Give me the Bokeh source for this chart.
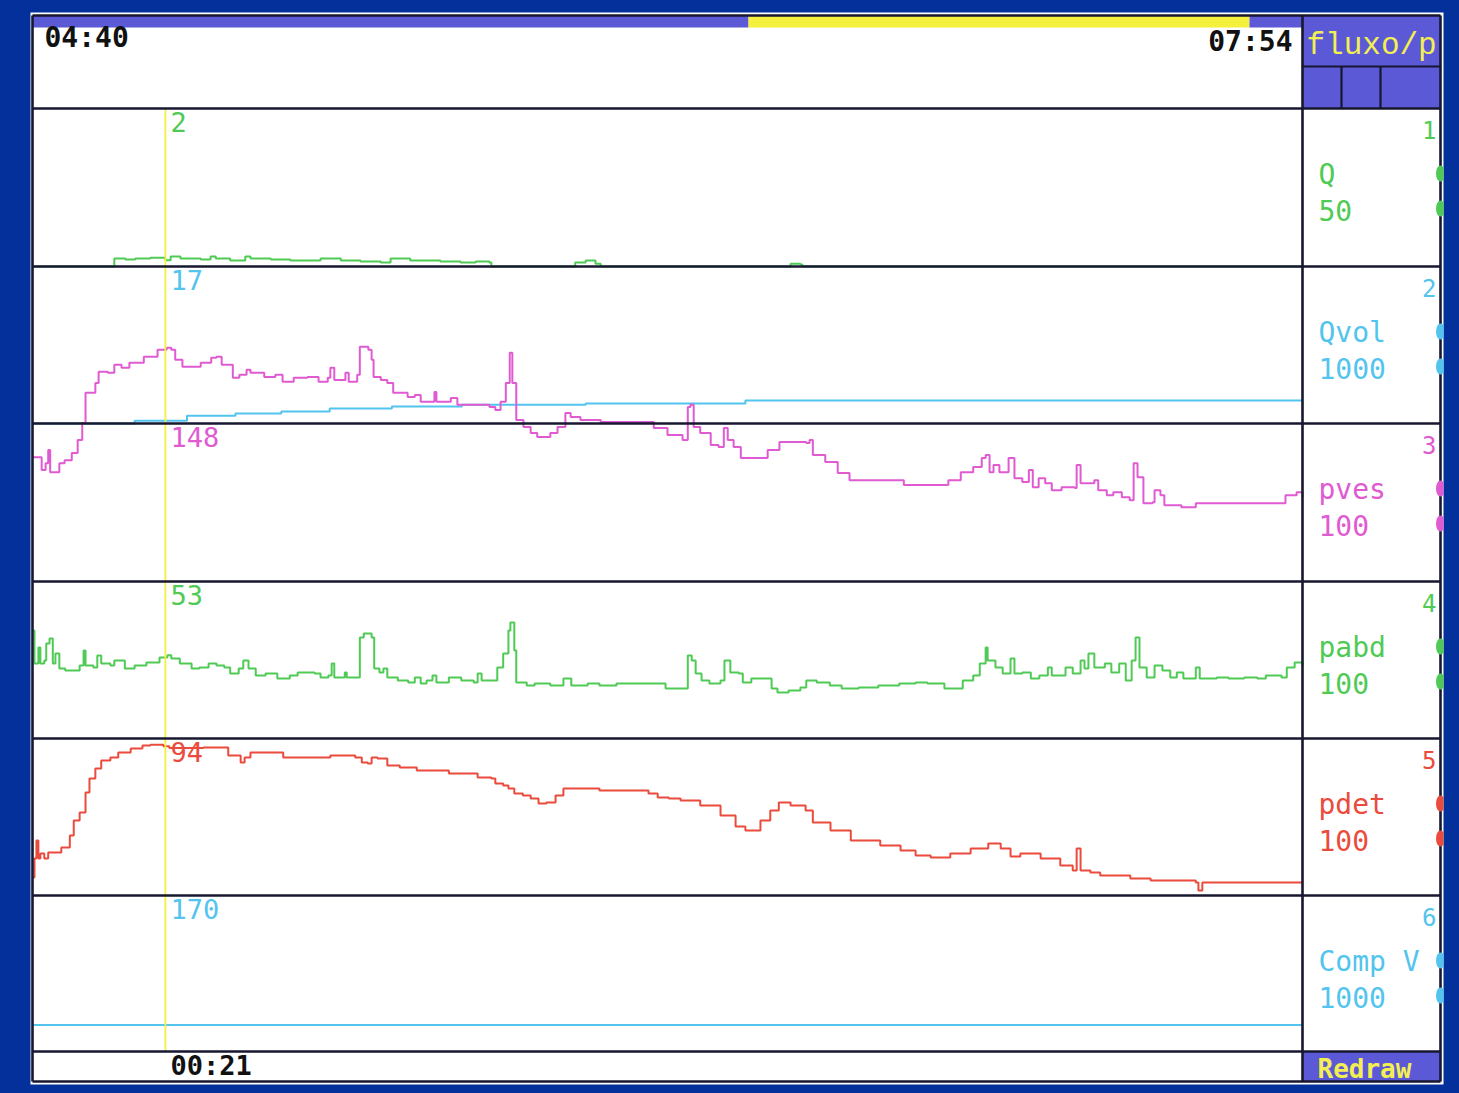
from bokeh.plotting import figure
from bokeh.models import Range1d, ColumnDataSource
from bokeh.core.properties import value
from bokeh.embed import file_html
from bokeh.resources import INLINE

# ---------------- values ----------------
window_start = "04:40"
window_end = "07:54"
window_seconds = 194.0          # 04:40 -> 07:54
cursor_time = 20.3              # s from window start
cursor_clock = "00:21"
protocol_name = "fluxo/p"
button_label = "Redraw"

channel_numbers = ["1", "2", "3", "4", "5", "6"]
channel_names = ["Q", "Qvol", "pves", "pabd", "pdet", "Comp V"]
channel_full_scale = [50, 1000, 100, 100, 100, 1000]
channel_scale_labels = ["50", "1000", "100", "100", "100", "1000"]
cursor_readings = ["2", "17", "148", "53", "94", "170"]

# channel 1: flow Q (ml/s)
q_t = [0.0, 12.2, 12.5, 14.2, 15.7, 18.0, 20.3, 21.1, 22.6, 25.7,
       27.2, 28.0, 30.2, 32.5, 33.3, 36.4, 39.4, 44.0, 47.1, 50.1,
       53.2, 54.7, 57.7, 62.3, 65.4, 67.7, 69.8, 70.1, 82.2, 82.9,
       84.5, 86.0, 86.8, 115.0, 115.8, 117.3, 117.6, 194.0]
q_v = [0, 0, 2.5, 2.2, 2.5, 2.8, 2.0, 3.2, 2.5, 2.2,
       3.2, 2.5, 1.9, 3.2, 2.5, 2.2, 1.9, 2.5, 1.9, 1.6,
       1.3, 2.5, 1.9, 1.6, 1.3, 1.6, 1.3, 0, 0, 1.3,
       1.9, 0.9, 0, 0, 0.9, 0.6, 0, 0]

# channel 2: voided volume Qvol (ml)
qvol_t = [0.0, 15.6, 23.6, 31.0, 38.0, 45.4, 54.9, 65.6, 84.5, 108.9, 194.0]
qvol_v = [0, 17, 50, 64, 76, 95, 108, 120, 128, 146, 146]

# channel 3: pves (cmH2O)
pves_t = [0.0, 0.8, 1.4, 2.0, 2.4, 2.7, 3.5, 4.1, 4.9, 6.0,
          6.9, 7.6, 8.1, 8.7, 9.6, 10.1, 11.5, 12.5, 13.6, 14.8,
          17.0, 19.1, 20.5, 21.2, 21.8, 22.9, 24.6, 25.7, 27.3, 28.1,
          28.9, 30.6, 31.6, 32.7, 33.3, 35.4, 37.1, 38.2, 39.9, 42.0,
          43.7, 45.1, 45.5, 46.1, 47.8, 48.3, 49.6, 50.0, 50.7, 51.3,
          51.8, 52.1, 53.2, 54.2, 55.1, 57.3, 58.4, 59.3, 61.4, 61.7,
          63.9, 64.9, 67.7, 69.8, 70.7, 71.5, 72.3, 72.9, 73.3, 73.9,
          75.0, 76.1, 77.1, 79.1, 80.2, 81.4, 82.2, 83.7, 86.8, 93.9,
          94.9, 97.0, 99.3, 100.1, 100.5, 101.0, 102.0, 103.6, 104.8, 105.6,
          106.2, 107.1, 108.2, 109.7, 112.3, 114.1, 118.2, 118.7, 119.2, 121.1,
          123.0, 124.8, 127.4, 133.1, 136.7, 139.9, 141.8, 143.7, 145.0, 145.6,
          146.2, 146.8, 147.7, 149.1, 150.0, 151.2, 152.2, 152.8, 153.7, 154.7,
          155.7, 157.2, 159.2, 159.5, 160.1, 162.2, 162.8, 164.1, 165.1, 166.4,
          167.6, 168.2, 168.8, 169.7, 171.1, 171.4, 172.3, 172.9, 175.5, 177.7,
          190.2, 191.4, 193.1, 194.0]
pves_v = [78.7, 78.7, 70.5, 74.9, 83.2, 69.2, 69.2, 74.9, 76.8, 81.3,
          89.5, 100.3, 119.4, 119.4, 125.7, 132.7, 132.1, 137.2, 135.3, 138.4,
          142.2, 146.7, 148.0, 146.7, 140.3, 135.9, 135.9, 138.4, 141.6, 142.2,
          137.2, 128.9, 130.8, 134.0, 132.1, 129.5, 130.8, 126.4, 128.9, 129.5,
          126.4, 128.9, 135.3, 127.6, 132.1, 126.4, 130.8, 148.6, 148.6, 146.7,
          140.3, 129.5, 127.6, 125.7, 119.4, 116.8, 118.1, 113.7, 120.0, 113.7,
          116.2, 111.8, 111.8, 110.5, 108.6, 113.7, 125.7, 144.8, 125.7, 102.2,
          97.8, 94.0, 91.4, 94.0, 97.8, 106.7, 104.1, 102.2, 101.0, 101.0,
          97.2, 92.7, 89.5, 110.5, 111.8, 97.8, 94.0, 86.4, 85.1, 97.2,
          89.5, 85.1, 78.1, 78.1, 83.2, 88.3, 87.6, 89.5, 80.0, 75.6,
          68.6, 64.1, 64.1, 61.0, 61.0, 64.1, 69.2, 72.4, 78.1, 80.0,
          69.2, 73.7, 69.2, 78.1, 65.4, 62.9, 70.5, 59.7, 65.4, 62.2,
          57.8, 59.7, 59.1, 73.7, 62.2, 64.1, 57.8, 54.6, 56.5, 53.3,
          51.4, 74.9, 66.0, 49.5, 50.2, 57.8, 54.6, 48.3, 47.0, 49.5,
          49.5, 54.6, 56.5, 53.3]

# channel 4: pabd (cmH2O)
pabd_t = [0.0, 0.3, 0.9, 1.2, 1.8, 2.1, 2.6, 3.1, 3.5, 4.1,
          5.0, 6.3, 7.2, 7.8, 8.1, 9.3, 9.9, 10.5, 11.9, 12.5,
          13.4, 14.1, 15.6, 17.4, 19.4, 20.6, 21.2, 22.5, 24.3, 25.5,
          26.9, 28.1, 29.3, 30.2, 31.5, 32.2, 33.0, 34.1, 35.6, 36.8,
          37.4, 39.3, 40.5, 43.1, 44.0, 45.2, 45.7, 46.1, 47.7, 48.0,
          48.9, 50.0, 50.6, 51.8, 52.2, 53.0, 53.6, 54.2, 55.8, 57.4,
          58.4, 59.3, 60.2, 61.1, 61.7, 63.6, 65.5, 67.4, 68.0, 68.6,
          70.4, 71.0, 71.9, 72.7, 73.0, 73.6, 73.9, 75.5, 76.7, 79.1,
          81.1, 82.3, 84.8, 86.6, 89.2, 91.7, 94.1, 96.7, 99.8, 100.1,
          100.7, 101.3, 102.2, 103.4, 105.1, 105.7, 106.6, 107.9, 108.5, 109.8,
          111.7, 112.9, 113.8, 115.5, 117.3, 118.2, 119.8, 121.8, 123.6, 126.2,
          129.2, 132.4, 134.9, 136.7, 139.3, 141.5, 142.1, 143.7, 144.7, 145.6,
          145.9, 147.1, 148.2, 149.4, 150.0, 151.2, 152.5, 153.8, 155.1, 155.7,
          156.9, 157.8, 158.9, 160.1, 160.7, 161.3, 162.2, 163.1, 163.8, 164.8,
          166.0, 167.0, 167.9, 168.5, 169.1, 170.2, 171.4, 172.6, 173.8, 174.8,
          175.8, 177.7, 178.3, 180.9, 182.7, 185.1, 187.1, 188.4, 190.8, 191.6,
          192.8, 194.0]
pabd_v = [68.8, 47.8, 58.0, 47.8, 49.7, 60.5, 63.7, 47.8, 54.1, 44.6,
          43.3, 43.3, 46.5, 56.1, 46.5, 45.2, 52.9, 47.8, 46.5, 49.7,
          49.7, 44.6, 46.5, 48.4, 51.6, 53.0, 51.0, 47.8, 44.6, 45.2,
          47.8, 46.5, 45.2, 41.4, 44.6, 49.7, 44.6, 40.1, 41.4, 41.4,
          38.2, 40.1, 42.0, 41.4, 38.9, 40.1, 47.8, 38.9, 42.0, 38.9,
          38.9, 64.3, 66.9, 64.3, 44.6, 42.0, 44.6, 38.9, 36.9, 35.7,
          38.9, 35.0, 36.9, 40.1, 35.7, 38.9, 36.9, 35.7, 41.4, 36.9,
          36.9, 45.2, 54.1, 68.8, 73.9, 56.1, 35.7, 33.8, 35.0, 33.8,
          38.2, 33.8, 35.0, 33.8, 35.0, 35.0, 35.0, 31.9, 31.9, 52.9,
          49.7, 41.4, 36.9, 35.0, 36.9, 49.7, 42.0, 41.4, 35.7, 38.2,
          38.2, 31.9, 29.3, 30.6, 32.5, 36.9, 35.7, 33.8, 31.9, 32.5,
          33.8, 35.0, 35.7, 35.0, 31.9, 31.9, 36.9, 40.1, 47.8, 58.0,
          49.7, 45.2, 41.4, 51.0, 41.4, 42.0, 38.2, 40.1, 45.2, 40.1,
          40.1, 45.2, 41.4, 49.7, 44.6, 54.1, 45.2, 45.2, 47.8, 42.0,
          47.8, 36.9, 49.7, 64.3, 45.2, 38.9, 46.5, 43.3, 38.9, 42.0,
          38.2, 45.2, 38.2, 38.9, 38.2, 38.9, 38.2, 40.1, 38.9, 45.2,
          48.4, 46.5]

# channel 5: pdet (cmH2O)
pdet_t = [0.0, 0.3, 0.6, 0.9, 1.2, 1.8, 2.4, 3.5, 4.4, 5.7,
          6.3, 7.2, 8.1, 8.7, 9.6, 10.5, 11.9, 13.1, 15.0, 16.8,
          18.0, 20.0, 20.9, 26.1, 28.1, 29.9, 31.8, 32.4, 33.3, 36.8,
          38.3, 43.1, 45.5, 49.3, 50.3, 51.2, 51.8, 52.7, 54.2, 56.1,
          58.7, 61.7, 63.6, 66.8, 68.0, 70.1, 70.7, 71.9, 72.7, 73.6,
          74.9, 76.1, 77.3, 78.5, 79.9, 81.1, 83.6, 86.6, 92.3, 94.1,
          95.5, 97.2, 99.0, 102.0, 105.1, 107.4, 108.9, 111.2, 112.7, 114.0,
          115.8, 118.1, 119.2, 121.9, 125.0, 129.5, 132.6, 134.9, 137.2, 140.2,
          143.3, 146.0, 147.9, 149.4, 150.9, 154.0, 157.0, 158.9, 159.5, 160.1,
          161.6, 163.1, 167.7, 170.8, 173.8, 177.7, 178.1, 178.7, 187.6, 194.0]
pdet_v = [11.5, 23.6, 35.0, 23.6, 26.8, 23.6, 27.4, 27.4, 30.6, 38.2,
          47.8, 52.9, 65.6, 74.5, 80.9, 86.0, 87.9, 91.1, 93.6, 95.6,
          96.0, 95.0, 94.0, 94.3, 94.3, 89.2, 84.7, 87.9, 91.1, 91.1,
          87.9, 87.9, 89.2, 87.9, 84.7, 84.1, 87.9, 87.3, 82.8, 81.5,
          79.6, 79.6, 77.7, 77.7, 75.2, 74.5, 71.3, 70.1, 68.2, 65.0,
          63.7, 61.8, 58.6, 59.2, 63.7, 68.2, 68.2, 66.9, 66.9, 65.0,
          62.4, 61.8, 60.5, 57.3, 51.0, 44.0, 41.4, 47.8, 54.1, 59.2,
          57.3, 54.1, 46.5, 41.4, 35.0, 31.9, 28.7, 25.5, 24.2, 26.8,
          29.9, 33.1, 29.9, 24.8, 26.8, 23.6, 19.1, 15.9, 29.9, 15.9,
          14.7, 12.7, 10.8, 9.6, 9.6, 8.3, 3.2, 8.3, 8.3, 8.3]

# channel 6: compensated volume (ml)
compv_t = [0.0, 194.0]
compv_v = [170, 170]

# ---------------- styling / layout ----------------
NAVY = "#03309a"
INK = "#17172f"
PURPLE = "#5b59d6"
BAR_YELLOW = "#f4f03c"
TEXT_YELLOW = "#f3ef52"
GREEN = "#4fca55"
CYAN = "#52c4ee"
MAGENTA = "#e05ad2"
RED = "#ea4b3c"
channel_colors = [GREEN, CYAN, MAGENTA, GREEN, RED, CYAN]

X_LEFT, X_TRACE_RIGHT, X_RIGHT = 32, 1302, 1440
Y_TOP, Y_BOTTOM = 15, 1081
ROW_EDGES = [108, 266, 423, 581, 738, 895, 1051]
FX0, FX1, FY0, FY1 = 30, 1443, 12, 1084

p = figure(width=1459, height=1093,
           x_range=Range1d(FX0, FX1), y_range=Range1d(FY1, FY0),
           output_backend="svg", toolbar_location=None,
           x_axis_location=None, y_axis_location=None,
           min_border_left=FX0, min_border_right=1459 - FX1,
           min_border_top=FY0, min_border_bottom=1093 - FY1,
           background_fill_color="white", border_fill_color=NAVY,
           outline_line_color=None)
p.grid.visible = False

try:
    from bokeh.models import GlobalInlineStyleSheet
    p.stylesheets = [GlobalInlineStyleSheet(css="html, body { background: %s; overflow: hidden; }" % NAVY)]
except Exception:
    pass

# time scale: window start at the left trace edge, window end at the right one
k = window_seconds / (X_TRACE_RIGHT - X_LEFT)
p.extra_x_ranges = {"time": Range1d((FX0 - X_LEFT) * k, (FX1 - X_LEFT) * k)}

# one value scale per channel: 0 .. full scale fills the channel's row
yr = {}
for i in range(6):
    top, bot = ROW_EDGES[i], ROW_EDGES[i + 1]
    F = channel_full_scale[i]
    yr["ch%d" % (i + 1)] = Range1d((bot - FY1) / (bot - top) * F, (bot - FY0) / (bot - top) * F)
p.extra_y_ranges = yr

# header: progress bar and right-hand panels
p.quad(left=[X_LEFT, 748, 1249], right=[748, 1249, X_TRACE_RIGHT],
       top=[Y_TOP, Y_TOP, Y_TOP], bottom=[27, 27, 27],
       fill_color=[PURPLE, BAR_YELLOW, PURPLE], line_color=None)
p.quad(left=[X_TRACE_RIGHT, X_TRACE_RIGHT], right=[X_RIGHT, X_RIGHT],
       top=[Y_TOP, ROW_EDGES[6]], bottom=[ROW_EDGES[0], Y_BOTTOM],
       fill_color=PURPLE, line_color=None)

# traces
traces = [(q_t, q_v), (qvol_t, qvol_v), (pves_t, pves_v),
          (pabd_t, pabd_v), (pdet_t, pdet_v), (compv_t, compv_v)]
for i, (tt, vv) in enumerate(traces):
    p.step(tt, vv, mode="after", x_range_name="time", y_range_name="ch%d" % (i + 1),
           line_color=channel_colors[i], line_width=2.0)

# cursor
p.segment(x0=[cursor_time], x1=[cursor_time], y0=[ROW_EDGES[0]], y1=[ROW_EDGES[6]],
          x_range_name="time", line_color=BAR_YELLOW, line_width=1.8)

# grid frame
hx0 = [X_LEFT] * (len(ROW_EDGES) + 2)
hx1 = [X_RIGHT] * (len(ROW_EDGES) + 2)
hy = [Y_TOP] + ROW_EDGES + [Y_BOTTOM]
p.segment(x0=hx0, x1=hx1, y0=hy, y1=hy, line_color=INK, line_width=2.6)
p.segment(x0=[X_LEFT, X_TRACE_RIGHT, X_RIGHT], x1=[X_LEFT, X_TRACE_RIGHT, X_RIGHT],
          y0=[Y_TOP] * 3, y1=[Y_BOTTOM] * 3, line_color=INK, line_width=2.6)
p.segment(x0=[X_TRACE_RIGHT, 1341, 1380], x1=[X_RIGHT, 1341, 1380],
          y0=[66, 66, 66], y1=[66, ROW_EDGES[0], ROW_EDGES[0]], line_color=INK, line_width=2.2)

# small markers at the right edge of each channel panel
mx, my, mc = [], [], []
for i in range(6):
    for dy in (65, 100):
        mx.append(X_RIGHT)
        my.append(ROW_EDGES[i] + dy)
        mc.append(channel_colors[i])
p.ellipse(x=mx, y=my, width=9, height=16, fill_color=mc, line_color=None)

MONO = value("DejaVu Sans Mono")

# times
p.text(x=[44], y=[37], text=[window_start], text_font=MONO, text_font_size="28px",
       text_font_style="bold", text_color="#111111", text_baseline="alphabetic", text_align="left")
p.text(x=[1292], y=[41], text=[window_end], text_font=MONO, text_font_size="28px",
       text_font_style="bold", text_color="#111111", text_baseline="alphabetic", text_align="right")
p.text(x=[cursor_time], y=[1065], text=[cursor_clock], x_range_name="time", x_offset=5,
       text_font=MONO, text_font_size="27px", text_font_style="bold",
       text_color="#111111", text_baseline="alphabetic", text_align="left")

# protocol and button
p.text(x=[1306], y=[45], text=[protocol_name], text_font=value("Liberation Mono"),
       text_font_size="31px", text_color=TEXT_YELLOW, text_baseline="alphabetic", text_align="left")
p.text(x=[1317], y=[1068], text=[button_label], text_font=MONO, text_font_size="26px",
       text_font_style="bold", text_color=TEXT_YELLOW, text_baseline="alphabetic", text_align="left")

# channel labels
lab = ColumnDataSource(dict(
    num_y=[e + 21 for e in ROW_EDGES[:6]],
    name_y=[e + 66 for e in ROW_EDGES[:6]],
    scale_y=[e + 102 for e in ROW_EDGES[:6]],
    read_y=[e + 13 for e in ROW_EDGES[:6]],
    num=channel_numbers, name=channel_names, scale=channel_scale_labels,
    reading=cursor_readings, color=channel_colors,
    num_x=[1436] * 6, name_x=[1318] * 6, cur_x=[cursor_time] * 6,
))
p.text(x="num_x", y="num_y", text="num", source=lab, text_font=MONO, text_font_size="24px",
       text_color="color", text_baseline="alphabetic", text_align="right")
p.text(x="name_x", y="name_y", text="name", source=lab, text_font=MONO, text_font_size="28px",
       text_color="color", text_baseline="alphabetic", text_align="left")
p.text(x="name_x", y="scale_y", text="scale", source=lab, text_font=MONO, text_font_size="28px",
       text_color="color", text_baseline="alphabetic", text_align="left")
p.text(x="cur_x", y="read_y", text="reading", source=lab, x_range_name="time", x_offset=5,
       text_font=MONO, text_font_size="27px", text_color="color",
       text_baseline="alphabetic", text_align="left")

open("out.html", "w").write(file_html(p, INLINE))
